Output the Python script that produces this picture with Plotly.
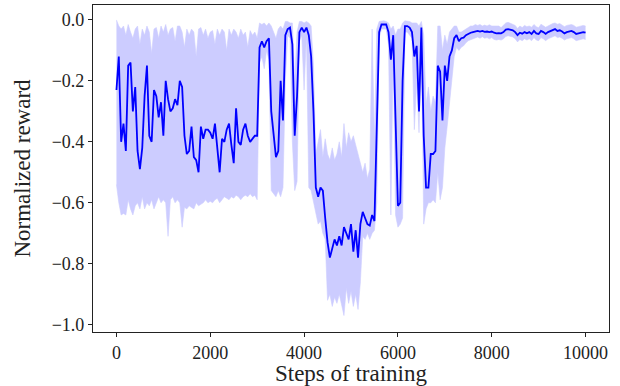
import plotly.graph_objects as go

# Training steps (one sample every 50 steps)
steps = list(range(0, 10001, 50))

mean_reward = [
    -0.23, -0.12, -0.40, -0.34, -0.43, -0.15, -0.14, -0.30, -0.22, -0.43,
    -0.49, -0.42, -0.25, -0.15, -0.38, -0.40, -0.23, -0.25, -0.32, -0.27,
    -0.38, -0.20, -0.26, -0.30, -0.29, -0.26, -0.28, -0.20, -0.22, -0.38,
    -0.44, -0.43, -0.35, -0.45, -0.46, -0.50, -0.35, -0.39, -0.36, -0.36,
    -0.37, -0.39, -0.34, -0.42, -0.50, -0.39, -0.40, -0.36, -0.34, -0.41,
    -0.47, -0.29, -0.40, -0.41, -0.36, -0.34, -0.38, -0.40, -0.39, -0.38,
    -0.38, -0.09, -0.07, -0.09, -0.07, -0.06, -0.30, -0.38, -0.45, -0.43,
    -0.20, -0.33, -0.05, -0.03, -0.025, -0.08, -0.38, -0.25, -0.04, -0.025,
    -0.04, -0.025, -0.05, -0.12, -0.30, -0.55, -0.58, -0.55, -0.56, -0.65,
    -0.73, -0.78, -0.75, -0.72, -0.74, -0.71, -0.74, -0.68, -0.70, -0.72,
    -0.67, -0.76, -0.69, -0.78, -0.67, -0.63, -0.65, -0.67, -0.675, -0.64,
    -0.66, -0.30, -0.04, -0.015, -0.015, -0.015, -0.04, -0.13, -0.05, -0.36,
    -0.61, -0.60, -0.20, -0.02, -0.02, -0.025, -0.04, -0.12, -0.085, -0.30,
    -0.025, -0.38, -0.55, -0.55, -0.44, -0.44, -0.43, -0.15, -0.17, -0.33,
    -0.15, -0.20, -0.12, -0.10, -0.06, -0.05, -0.07, -0.06, -0.058, -0.05,
    -0.045, -0.042, -0.040, -0.038, -0.036, -0.038, -0.036, -0.039, -0.038, -0.040,
    -0.038, -0.042, -0.044, -0.043, -0.044, -0.040, -0.032, -0.030, -0.033, -0.034,
    -0.040, -0.050, -0.042, -0.045, -0.040, -0.044, -0.040, -0.046, -0.036, -0.044,
    -0.046, -0.036, -0.040, -0.046, -0.040, -0.036, -0.034, -0.030, -0.036, -0.034,
    -0.038, -0.044, -0.040, -0.038, -0.036, -0.040, -0.046, -0.044, -0.042, -0.040,
    -0.042,
]

upper_reward = [
    0.0, -0.02, -0.03, -0.02, -0.05, -0.015, -0.04, -0.06, -0.03, -0.02,
    -0.08, -0.03, -0.05, -0.02, -0.04, -0.11, -0.03, -0.025, -0.06, -0.02,
    -0.04, -0.015, -0.05, -0.03, -0.025, -0.07, -0.02, -0.02, -0.04, -0.09,
    -0.03, -0.05, -0.03, -0.04, -0.12, -0.03, -0.025, -0.05, -0.03, -0.06,
    -0.04, -0.035, -0.08, -0.03, -0.05, -0.03, -0.04, -0.10, -0.03, -0.05,
    -0.03, -0.04, -0.06, -0.03, -0.05, -0.04, -0.09, -0.035, -0.05, -0.04,
    -0.06, -0.01, -0.015, -0.01, -0.02, -0.01, -0.02, -0.04, -0.06, -0.03,
    -0.02, -0.03, -0.005, -0.005, -0.01, -0.01, -0.20, -0.04, -0.005, -0.005,
    -0.01, -0.005, -0.01, -0.02, -0.15, -0.44, -0.40, -0.36, -0.45, -0.39,
    -0.44, -0.46, -0.42, -0.46, -0.44, -0.40, -0.45, -0.34, -0.42, -0.37,
    -0.40, -0.38, -0.41, -0.44, -0.47, -0.50, -0.47, -0.52, -0.49, -0.03,
    -0.40, -0.03, -0.005, -0.003, -0.003, -0.005, -0.01, -0.03, -0.02, -0.05,
    -0.03, -0.03, -0.01, -0.003, -0.005, -0.005, -0.01, -0.01, -0.01, -0.02,
    -0.005, -0.05, -0.28, -0.22, -0.30, -0.25, -0.27, -0.02, -0.02, -0.10,
    -0.05, -0.08, -0.04, -0.03, -0.02, -0.02, -0.04, -0.04, -0.035, -0.03,
    -0.025, -0.02, -0.02, -0.015, -0.018, -0.015, -0.02, -0.017, -0.02, -0.016,
    -0.02, -0.02, -0.022, -0.02, -0.025, -0.018, -0.01, -0.008, -0.012, -0.014,
    -0.018, -0.028, -0.02, -0.025, -0.018, -0.022, -0.02, -0.024, -0.015, -0.022,
    -0.026, -0.014, -0.018, -0.024, -0.02, -0.015, -0.012, -0.01, -0.014, -0.012,
    -0.016, -0.022, -0.018, -0.016, -0.015, -0.018, -0.024, -0.022, -0.02, -0.018,
    -0.02,
]

lower_reward = [
    -0.54, -0.60, -0.64, -0.635, -0.64, -0.59, -0.62, -0.64, -0.61, -0.60,
    -0.62, -0.58, -0.62, -0.60, -0.61, -0.59, -0.62, -0.60, -0.58, -0.60,
    -0.59, -0.60, -0.71, -0.59, -0.58, -0.60, -0.59, -0.60, -0.68, -0.615,
    -0.62, -0.61, -0.615, -0.62, -0.60, -0.61, -0.605, -0.60, -0.59, -0.60,
    -0.595, -0.60, -0.59, -0.585, -0.60, -0.59, -0.58, -0.585, -0.59, -0.58,
    -0.585, -0.575, -0.58, -0.59, -0.58, -0.575, -0.58, -0.57, -0.58, -0.575,
    -0.59, -0.14, -0.12, -0.16, -0.10, -0.13, -0.56, -0.57, -0.58, -0.56,
    -0.58, -0.55, -0.20, -0.05, -0.06, -0.40, -0.56, -0.53, -0.07, -0.05,
    -0.23, -0.05, -0.55, -0.56, -0.60, -0.64, -0.67, -0.66, -0.70, -0.72,
    -0.92, -0.90, -0.94, -0.91, -0.93, -0.90, -0.94, -0.97, -0.88, -0.93,
    -0.89, -0.94, -0.90, -0.95, -0.86, -0.71, -0.72, -0.70, -0.72, -0.70,
    -0.69, -0.60, -0.06, -0.03, -0.03, -0.03, -0.08, -0.64, -0.10, -0.64,
    -0.68, -0.67, -0.65, -0.04, -0.04, -0.05, -0.06, -0.36, -0.20, -0.37,
    -0.06, -0.67, -0.62, -0.60, -0.60, -0.59, -0.60, -0.50, -0.59, -0.55,
    -0.42, -0.35, -0.27, -0.18, -0.12, -0.09, -0.10, -0.09, -0.085, -0.075,
    -0.068, -0.065, -0.062, -0.06, -0.056, -0.06, -0.055, -0.06, -0.058, -0.062,
    -0.058, -0.064, -0.066, -0.064, -0.066, -0.062, -0.054, -0.052, -0.055, -0.056,
    -0.062, -0.072, -0.064, -0.068, -0.062, -0.066, -0.062, -0.068, -0.058, -0.066,
    -0.068, -0.058, -0.062, -0.068, -0.062, -0.058, -0.056, -0.052, -0.058, -0.056,
    -0.06, -0.066, -0.062, -0.06, -0.058, -0.062, -0.068, -0.066, -0.064, -0.062,
    -0.064,
]

x_ticks = [0, 2000, 4000, 6000, 8000, 10000]
y_ticks = [-1.0, -0.8, -0.6, -0.4, -0.2, 0.0]

BAND = "#ccccff"
LINE = "#0000ff"
FONT = "Liberation Serif"
INK = "#222222"

fig = go.Figure()
fig.add_trace(go.Scatter(x=steps, y=lower_reward, mode="lines",
                         line=dict(width=0.6, color=BAND), showlegend=False,
                         hoverinfo="skip"))
fig.add_trace(go.Scatter(x=steps, y=upper_reward, mode="lines", fill="tonexty",
                         fillcolor=BAND, line=dict(width=0.6, color=BAND),
                         showlegend=False, hoverinfo="skip"))
fig.add_trace(go.Scatter(x=steps, y=mean_reward, mode="lines",
                         line=dict(width=1.8, color=LINE), showlegend=False))

axis_common = dict(
    showgrid=False, zeroline=False, showline=True, mirror=True,
    linecolor=INK, linewidth=1.2, ticks="outside", ticklen=4,
    tickwidth=1, tickcolor=INK,
    tickfont=dict(family=FONT, size=18, color=INK),
)

fig.update_xaxes(range=[-500, 10500], tickvals=x_ticks,
                 ticktext=[str(v) for v in x_ticks],
                 title=dict(text="Steps of training",
                            font=dict(family=FONT, size=23, color=INK),
                            standoff=8),
                 automargin=False, **axis_common)
fig.update_yaxes(range=[-1.024, 0.049], tickvals=y_ticks, tickformat=".1f",
                 title=dict(text="Normalized reward",
                            font=dict(family=FONT, size=23, color=INK),
                            standoff=14),
                 automargin=False, **axis_common)

fig.update_layout(
    width=620, height=386,
    margin=dict(l=93, r=11, t=5, b=54),
    paper_bgcolor="white", plot_bgcolor="white",
)

fig.write_html(
    "out.html",
    config={"displayModeBar": False},
    post_script="document.body.style.margin='0';document.body.style.overflow='hidden';",
)
